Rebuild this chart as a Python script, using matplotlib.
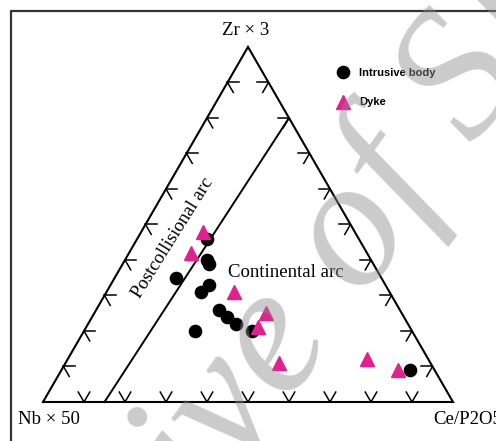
import numpy as np
import matplotlib.pyplot as plt
from matplotlib.lines import Line2D

# compositions in %, columns: Nb x 50, Ce/P2O5, Zr x 3
intrusive_nb = [37, 40, 40, 50, 43, 46, 44, 43, 42, 53, 39, 6]
intrusive_ce = [17, 20, 21, 15, 24, 23, 30, 33, 36, 27, 41, 85]
intrusive_zr = [46, 40, 39, 35, 33, 31, 26, 24, 22, 20, 20, 9]

dyke_nb = [37, 43, 38, 33, 37, 37, 15, 9]
dyke_ce = [15, 15, 31, 42, 42, 52, 73, 82]
dyke_zr = [48, 42, 31, 25, 21, 11, 12, 9]

# field boundary between postcollisional and continental arc (Nb, Ce, Zr)
boundary = [(85, 15, 0), (0, 20, 80)]

H = np.sqrt(3) / 2


def to_xy(nb, ce, zr):
    nb, ce, zr = np.asarray(nb, float), np.asarray(ce, float), np.asarray(zr, float)
    tot = nb + ce + zr
    x = (ce + zr / 2) / tot
    y = zr * H / tot
    return x, y


fig = plt.figure(figsize=(4.96, 4.41), dpi=100)
ax = fig.add_axes([0, 0, 1, 1])
ax.set_xlim(-43 / 410, 453 / 410)
ax.set_ylim(-39 / 410, 402 / 410)
ax.set_axis_off()

# outer frame
fig.add_artist(Line2D([0.0212, 0.0212, 1.01], [-0.01, 0.976, 0.976],
                      transform=fig.transFigure, color='#333333', lw=1.6))

# triangle outline
ax.plot([0, 1, 0.5, 0], [0, 0, H, 0], color='black', lw=1.5, solid_joinstyle='miter', zorder=2)

# tick marks every 10 %
L = 0.028
for i in range(1, 10):
    f = i / 10
    # bottom edge: "V"
    px, py = f, 0
    for ang in (60, 120):
        a = np.radians(ang)
        ax.plot([px, px + L * np.cos(a)], [py, py + L * np.sin(a)], color='black', lw=1.1)
    # left edge: "<"
    px, py = f / 2, f * H
    for ang in (0, -60):
        a = np.radians(ang)
        ax.plot([px, px + L * np.cos(a)], [py, py + L * np.sin(a)], color='black', lw=1.1)
    # right edge: ">"
    px, py = 1 - f / 2, f * H
    for ang in (180, 240):
        a = np.radians(ang)
        ax.plot([px, px + L * np.cos(a)], [py, py + L * np.sin(a)], color='black', lw=1.1)

bx, by = to_xy(*zip(*boundary))
ax.plot(bx, by, color='black', lw=1.4)

# samples
ix, iy = to_xy(intrusive_nb, intrusive_ce, intrusive_zr)
dx, dy = to_xy(dyke_nb, dyke_ce, dyke_zr)
ax.plot(ix, iy, 'o', color='black', ms=8.8, ls='none', label='Intrusive body', zorder=3)
ax.plot(dx, dy, '^', color='#E4208E', ms=9.5, ls='none', label='Dyke', zorder=3)

# apex labels and field names
serif = 'Liberation Serif'
ax.text(0.493, 0.905, 'Zr × 3', family=serif, fontsize=13.5, ha='center', va='center')
ax.text(-0.061, -0.0415, 'Nb × 50', family=serif, fontsize=13.5, ha='left', va='center')
ax.text(0.951, -0.0415, 'Ce/P2O5', family=serif, fontsize=13.5, ha='left', va='center')
ax.text(0.451, 0.315, 'Continental arc', family=serif, fontsize=13.5, ha='left', va='center')
ax.text(0.317, 0.40, 'Postcollisional arc', family=serif, fontsize=13.5,
        ha='center', va='center', rotation=58, rotation_mode='anchor')

leg = ax.legend(loc='upper left', bbox_to_anchor=(337.8 / 496, 1 - 68 / 441),
                bbox_transform=fig.transFigure, frameon=False, borderpad=0,
                borderaxespad=0, handlelength=1.0, handletextpad=0.94,
                labelspacing=1.75, prop={'family': 'Liberation Sans', 'weight': 'bold', 'size': 8})

# watermark
fig.text(326 / 496, 1 - 364 / 441, 'Archive of SID', family=serif, style='italic',
         fontsize=133, color='#8c8c8c', alpha=0.45, rotation=54,
         rotation_mode='anchor', ha='center', va='baseline', zorder=10)

fig.savefig('out.png', dpi=100)
